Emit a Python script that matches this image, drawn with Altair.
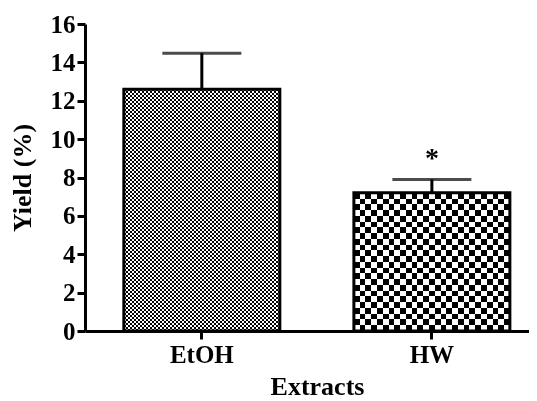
import altair as alt
import pandas as pd

categories = ["EtOH", "HW"]
yield_mean = [12.6, 7.2]
yield_sem = [1.88, 0.70]
significance = ["", "*"]

df = pd.DataFrame({"extract": categories, "mean": yield_mean,
                   "sem": yield_sem, "sig": significance})
df["upper"] = df["mean"] + df["sem"]

FONT = "Liberation Serif"


def stripes(n, vertical):
    stops = []
    for i in range(n):
        c = "black" if i % 2 == 0 else "white"
        stops.append({"offset": i / n, "color": c})
        stops.append({"offset": (i + 1) / n, "color": c})
    g = {"gradient": "linear", "stops": stops}
    if vertical:
        g.update(x1=0, x2=1, y1=0, y2=0)
    else:
        g.update(x1=0, x2=0, y1=0, y2=1)
    return g


x_enc = alt.X("extract:N", sort=categories,
              scale=alt.Scale(paddingInner=0.322, paddingOuter=0.126, align=0.67),
              axis=alt.Axis(title="Extracts", labelAngle=0, tickSize=8, tickWidth=3,
                            domainWidth=3, domainColor="black", tickColor="black",
                            labelColor="black", titleColor="black",
                            labelFont=FONT, labelFontSize=25, labelFontWeight="bold",
                            titleFont=FONT, titleFontSize=26, titleFontWeight="bold",
                            labelPadding=3, titlePadding=6, titleX=232))
y_scale = alt.Scale(domain=[0, 16], nice=False)
y_axis = alt.Axis(title="Yield (%)", values=list(range(0, 17, 2)),
                  labelOverlap=False,
                  tickSize=8, tickWidth=3, domainWidth=3,
                  domainColor="black", tickColor="black",
                  labelColor="black", titleColor="black", grid=False,
                  labelFont=FONT, labelFontSize=25, labelFontWeight="bold",
                  titleFont=FONT, titleFontSize=26, titleFontWeight="bold",
                  labelPadding=2, titleX=-50)
y_mean = alt.Y("mean:Q", scale=y_scale, axis=y_axis)
y_upper = alt.Y("upper:Q", scale=y_scale, axis=y_axis)

base = alt.Chart(df).encode(x=x_enc)

etoh_v = base.transform_filter(alt.datum.extract == "EtOH").mark_bar(
    fill=stripes(78, True)).encode(y=y_mean)
etoh_h = base.transform_filter(alt.datum.extract == "EtOH").mark_bar(
    fill=stripes(121, False), blend="difference").encode(y=y_mean)
hw_v = base.transform_filter(alt.datum.extract == "HW").mark_bar(
    fill=stripes(27, True)).encode(y=y_mean)
hw_h = base.transform_filter(alt.datum.extract == "HW").mark_bar(
    fill=stripes(24, False), blend="difference").encode(y=y_mean)

outline = base.mark_bar(fillOpacity=0, stroke="black", strokeWidth=3).encode(y=y_mean)
err = base.mark_rule(color="black", strokeWidth=3).encode(y=y_mean, y2="upper:Q")
cap = base.mark_tick(color="black", size=79, thickness=3).encode(y=y_upper)
star = base.mark_text(baseline="bottom", dy=-6, font=FONT, fontSize=28,
                      fontWeight="bold", color="black").encode(y=y_upper, text="sig:N")

chart = alt.layer(etoh_v, etoh_h, hw_v, hw_h, err, cap, outline, star).properties(
    width=444, height=307,
    autosize=alt.AutoSizeParams(type="none"),
    padding={"left": 77, "top": 16, "right": 0, "bottom": 69},
).configure_view(stroke=None).configure_axis(labelOverlap=False)

chart.save("out.html", embed_options={"renderer": "svg", "actions": False})
